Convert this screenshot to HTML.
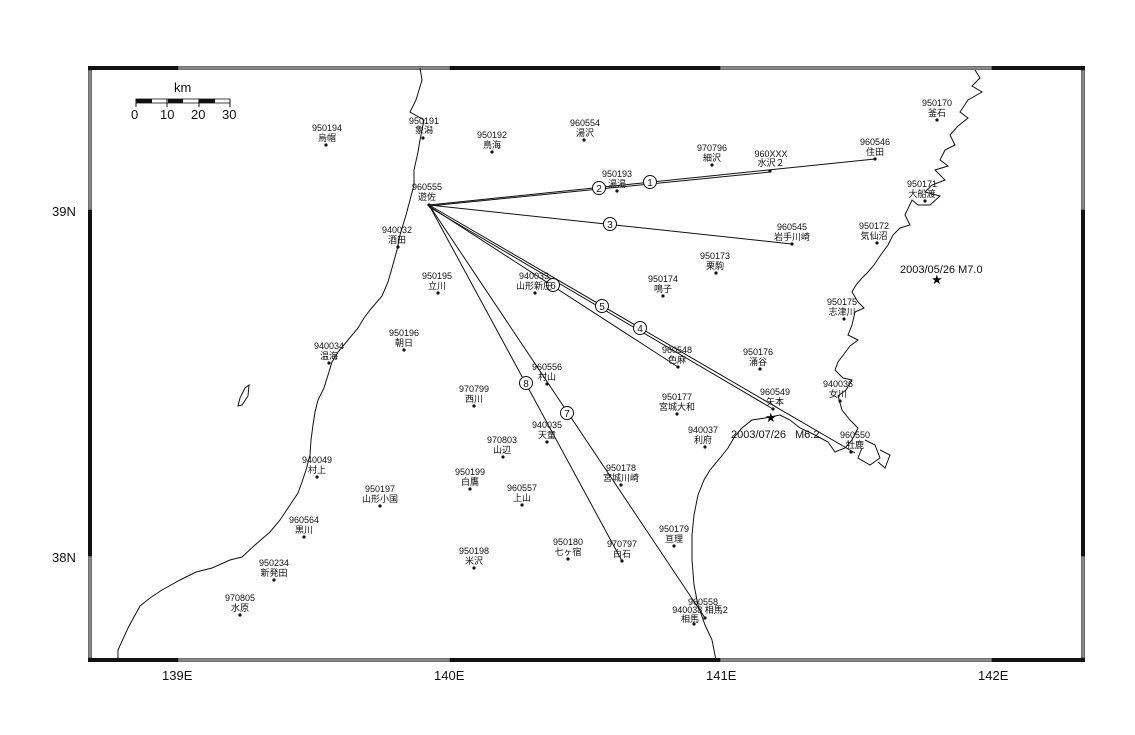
<!DOCTYPE html>
<html><head><meta charset="utf-8"><style>
html,body{margin:0;padding:0;background:#fff;}
svg{display:block;}
.n{font-family:"Liberation Sans","Noto Sans CJK JP",sans-serif;font-size:9px;fill:#111;text-anchor:middle;}
.ax{font-family:"Liberation Sans",sans-serif;font-size:13px;fill:#111;}
.c{fill:#fff;stroke:#111;stroke-width:1;}
.ct{font-family:"Liberation Sans",sans-serif;font-size:10px;fill:#111;text-anchor:middle;}
</style></head><body>
<svg width="1135" height="735" viewBox="0 0 1135 735" xmlns="http://www.w3.org/2000/svg">
<rect width="1135" height="735" fill="#fff"/>
<rect x="90" y="68" width="993" height="592" fill="none" stroke="#111" stroke-width="1"/>
<g fill="#111">
<rect x="88" y="66" width="90" height="4"/><rect x="450" y="66" width="270" height="4"/><rect x="992" y="66" width="93" height="4"/>
<rect x="88" y="658" width="90" height="4"/><rect x="450" y="658" width="270" height="4"/><rect x="992" y="658" width="93" height="4"/>
<rect x="88" y="210" width="4" height="346"/><rect x="1081" y="210" width="4" height="346"/>
</g>
<g fill="none" stroke="#111" stroke-width="0.6">
<rect x="178" y="66.5" width="272" height="3"/><rect x="720" y="66.5" width="272" height="3"/>
<rect x="178" y="658.5" width="272" height="3"/><rect x="720" y="658.5" width="272" height="3"/>
<rect x="88.5" y="70" width="3" height="140"/><rect x="88.5" y="556" width="3" height="102"/>
<rect x="1081.5" y="70" width="3" height="140"/><rect x="1081.5" y="556" width="3" height="102"/>
</g>
<text class="ax" x="52" y="216">39N</text>
<text class="ax" x="52" y="562">38N</text>
<text class="ax" x="162" y="680">139E</text>
<text class="ax" x="434" y="680">140E</text>
<text class="ax" x="706" y="680">141E</text>
<text class="ax" x="978" y="680">142E</text>
<text class="ax" x="174" y="92">km</text>
<g fill="#111"><rect x="136" y="99" width="16" height="4"/><rect x="168" y="99" width="15" height="4"/><rect x="199" y="99" width="16" height="4"/></g>
<rect x="136" y="99" width="94" height="4" fill="none" stroke="#111" stroke-width="0.8"/>
<g stroke="#111"><line x1="136" y1="99" x2="136" y2="107"/><line x1="167" y1="99" x2="167" y2="107"/><line x1="199" y1="99" x2="199" y2="107"/><line x1="230" y1="99" x2="230" y2="107"/></g>
<text class="ax" x="131" y="119">0</text><text class="ax" x="160" y="119">10</text><text class="ax" x="191" y="119">20</text><text class="ax" x="222" y="119">30</text>
<g fill="none" stroke="#111" stroke-width="1">
<polyline points="420,68 422,80 416,100 410,112 424,120 420,140 418,152 414,170 414,185 410,200 406,215 400,235 397,250 392,268 388,282 382,296 370,310 364,318 358,328 348,340 338,352 332,362 328,375 324,388 318,400 315,412 313,425 311,440 310,455 306,470 302,482 298,493 290,505 280,520 270,532 255,545 242,557 230,560 212,568 196,572 180,580 162,590 150,598 140,606 128,628 118,650 118,660"/>
<polygon points="245,388 249,385 248,396 242,405 238,406 240,398"/>
<polyline points="975,70 980,78 972,86 982,92 968,100 960,112 968,118 958,126 950,135 955,145 945,150 940,160 948,166 935,170 945,180 932,185 925,192 940,196 930,205 918,205 912,200 905,215 910,225 900,228 893,235 888,245 880,256 874,265 868,272 862,278 856,285 852,292 858,302 864,308 855,312 852,325 848,335 858,340 850,346 844,354 838,362 835,370 843,378 852,380 846,390 838,396 842,410 850,420 858,428 852,440 845,448 835,452 828,442 815,435 800,428 790,420 780,415 765,418 752,420 742,428 735,436 728,448 720,458 710,470 704,480 698,495 694,515 692,535 692,560 694,585 698,605 705,625 712,640 716,660"/>
<polyline points="865,440 875,445 880,458 870,465 858,458 862,448"/>
<polyline points="880,450 890,455 885,468 878,462"/>
</g>
<g fill="none" stroke="#111" stroke-width="1">
<line x1="429" y1="205" x2="875" y2="159"/>
<line x1="429" y1="206" x2="770" y2="172"/>
<line x1="429" y1="205" x2="792" y2="244"/>
<line x1="429" y1="205" x2="855" y2="453"/>
<line x1="429" y1="207" x2="773" y2="409"/>
<line x1="429" y1="206" x2="678" y2="367"/>
<line x1="429" y1="205" x2="705" y2="618"/>
<line x1="429" y1="205" x2="622" y2="561"/>
</g>
<g>
<circle class="c" cx="650" cy="182" r="6.5"/><text class="ct" x="650" y="186">1</text>
<circle class="c" cx="599" cy="188" r="6.5"/><text class="ct" x="599" y="192">2</text>
<circle class="c" cx="610" cy="224" r="6.5"/><text class="ct" x="610" y="228">3</text>
<circle class="c" cx="640" cy="328" r="6.5"/><text class="ct" x="640" y="332">4</text>
<circle class="c" cx="602" cy="306" r="6.5"/><text class="ct" x="602" y="310">5</text>
<circle class="c" cx="553" cy="285" r="6.5"/><text class="ct" x="553" y="289">6</text>
<circle class="c" cx="567" cy="413" r="6.5"/><text class="ct" x="567" y="417">7</text>
<circle class="c" cx="526" cy="383" r="6.5"/><text class="ct" x="526" y="387">8</text>
</g>
<text x="931" y="284" style="font-family:'DejaVu Sans';font-size:13px">★</text>
<text x="765" y="422" style="font-family:'DejaVu Sans';font-size:13px">★</text>
<text class="ax" x="900" y="273" style="font-size:11px">2003/05/26 M7.0</text>
<text class="ax" x="731" y="438" style="font-size:11px">2003/07/26</text>
<text class="ax" x="795" y="438" style="font-size:11px">M6.2</text>
<g fill="#111">
<circle cx="326" cy="145" r="1.6"/><circle cx="423" cy="138" r="1.6"/><circle cx="492" cy="152" r="1.6"/><circle cx="584" cy="140" r="1.6"/>
<circle cx="712" cy="165" r="1.6"/><circle cx="770" cy="171" r="1.6"/><circle cx="875" cy="159" r="1.6"/><circle cx="937" cy="120" r="1.6"/>
<circle cx="617" cy="191" r="1.6"/><circle cx="429" cy="205" r="1.6"/><circle cx="925" cy="201" r="1.6"/><circle cx="792" cy="244" r="1.6"/>
<circle cx="877" cy="243" r="1.6"/><circle cx="398" cy="247" r="1.6"/><circle cx="716" cy="273" r="1.6"/><circle cx="438" cy="293" r="1.6"/>
<circle cx="535" cy="293" r="1.6"/><circle cx="663" cy="296" r="1.6"/><circle cx="844" cy="319" r="1.6"/><circle cx="404" cy="350" r="1.6"/>
<circle cx="329" cy="363" r="1.6"/><circle cx="678" cy="367" r="1.6"/><circle cx="760" cy="369" r="1.6"/><circle cx="547" cy="384" r="1.6"/>
<circle cx="474" cy="406" r="1.6"/><circle cx="840" cy="401" r="1.6"/><circle cx="773" cy="409" r="1.6"/><circle cx="677" cy="414" r="1.6"/>
<circle cx="547" cy="442" r="1.6"/><circle cx="503" cy="457" r="1.6"/><circle cx="705" cy="447" r="1.6"/><circle cx="851" cy="452" r="1.6"/>
<circle cx="317" cy="477" r="1.6"/><circle cx="470" cy="489" r="1.6"/><circle cx="621" cy="485" r="1.6"/><circle cx="380" cy="506" r="1.6"/>
<circle cx="522" cy="505" r="1.6"/><circle cx="304" cy="537" r="1.6"/><circle cx="674" cy="546" r="1.6"/><circle cx="568" cy="559" r="1.6"/>
<circle cx="622" cy="561" r="1.6"/><circle cx="474" cy="568" r="1.6"/><circle cx="274" cy="580" r="1.6"/><circle cx="705" cy="618" r="1.6"/>
<circle cx="694" cy="624" r="1.6"/><circle cx="240" cy="615" r="1.6"/>
</g>
<g class="n">
<text x="327" y="131">950194</text><text x="327" y="141">烏帽</text>
<text x="424" y="124">950191</text><text x="424" y="133">象潟</text>
<text x="492" y="138">950192</text><text x="492" y="148">鳥海</text>
<text x="585" y="126">960554</text><text x="585" y="136">湯沢</text>
<text x="712" y="151">970796</text><text x="712" y="161">細沢</text>
<text x="771" y="157">960XXX</text><text x="771" y="166">水沢２</text>
<text x="875" y="145">960546</text><text x="875" y="155">住田</text>
<text x="937" y="106">950170</text><text x="937" y="116">釜石</text>
<text x="617" y="177">950193</text><text x="617" y="187">湯湯</text>
<text x="427" y="190">960555</text><text x="427" y="200">遊佐</text>
<text x="922" y="187">950171</text><text x="922" y="197">大船渡</text>
<text x="792" y="230">960545</text><text x="792" y="240">岩手川崎</text>
<text x="874" y="229">950172</text><text x="874" y="239">気仙沼</text>
<text x="397" y="233">940032</text><text x="397" y="243">酒田</text>
<text x="715" y="259">950173</text><text x="715" y="269">栗駒</text>
<text x="437" y="279">950195</text><text x="437" y="289">立川</text>
<text x="534" y="279">940033</text><text x="534" y="289">山形新庄</text>
<text x="663" y="282">950174</text><text x="663" y="292">鳴子</text>
<text x="842" y="305">950175</text><text x="842" y="315">志津川</text>
<text x="404" y="336">950196</text><text x="404" y="346">朝日</text>
<text x="329" y="349">940034</text><text x="329" y="359">温海</text>
<text x="677" y="353">960548</text><text x="677" y="363">色麻</text>
<text x="758" y="355">950176</text><text x="758" y="365">涌谷</text>
<text x="547" y="370">960556</text><text x="547" y="380">村山</text>
<text x="474" y="392">970799</text><text x="474" y="402">西川</text>
<text x="838" y="387">940036</text><text x="838" y="397">女川</text>
<text x="775" y="395">960549</text><text x="775" y="405">矢本</text>
<text x="677" y="400">950177</text><text x="677" y="410">宮城大和</text>
<text x="547" y="428">940035</text><text x="547" y="438">天童</text>
<text x="502" y="443">970803</text><text x="502" y="453">山辺</text>
<text x="703" y="433">940037</text><text x="703" y="443">利府</text>
<text x="855" y="438">960550</text><text x="855" y="448">牡鹿</text>
<text x="317" y="463">940049</text><text x="317" y="473">村上</text>
<text x="470" y="475">950199</text><text x="470" y="485">白鷹</text>
<text x="621" y="471">950178</text><text x="621" y="481">宮城川崎</text>
<text x="380" y="492">950197</text><text x="380" y="502">山形小国</text>
<text x="522" y="491">960557</text><text x="522" y="501">上山</text>
<text x="304" y="523">960564</text><text x="304" y="533">黒川</text>
<text x="674" y="532">950179</text><text x="674" y="542">亘理</text>
<text x="568" y="545">950180</text><text x="568" y="555">七ヶ宿</text>
<text x="622" y="547">970797</text><text x="622" y="557">白石</text>
<text x="474" y="554">950198</text><text x="474" y="564">米沢</text>
<text x="274" y="566">950234</text><text x="274" y="576">新発田</text>
<text x="703" y="605">960558</text><text x="700" y="613">940038 相馬2</text><text x="690" y="622">相馬</text>
<text x="240" y="601">970805</text><text x="240" y="611">水原</text>
</g>
</svg>
</body></html>
